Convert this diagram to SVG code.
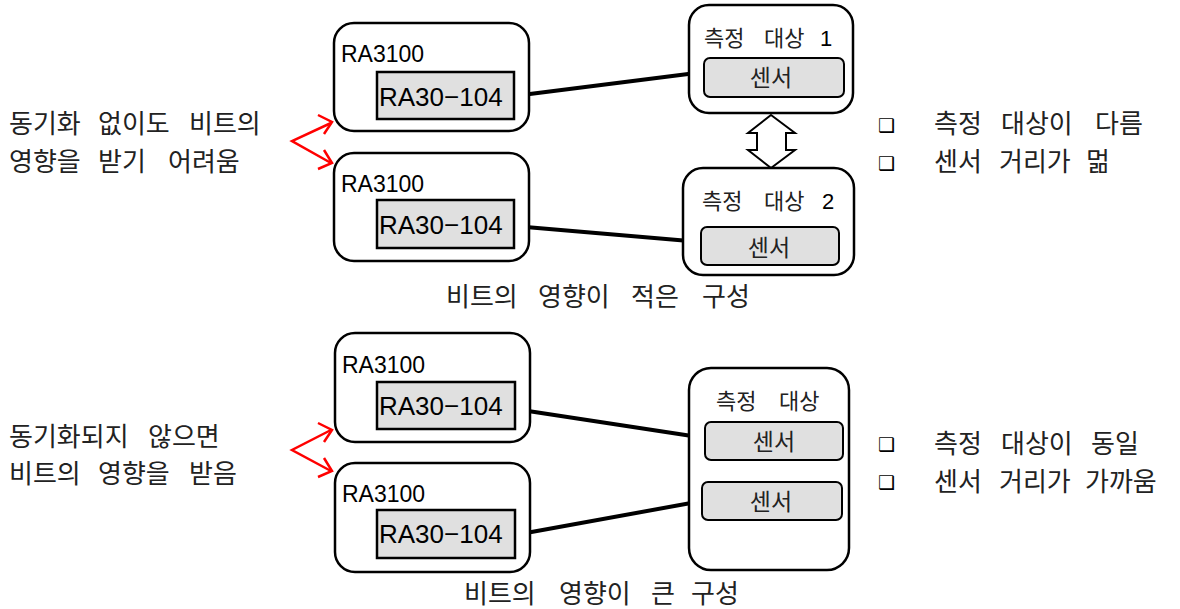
<svg xmlns="http://www.w3.org/2000/svg" width="1180" height="609" viewBox="0 0 1180 609">
<style>
.box{fill:#fff;stroke:#000;stroke-width:2.5}
.inner{fill:#e0e0e0;stroke:#000;stroke-width:2.5}
.sensor{fill:#e0e0e0;stroke:#000;stroke-width:2}
.en{font-family:"Liberation Sans",Arial,sans-serif;fill:#000}
.ra{font-size:23px}
.ra2{font-size:26px}
.ko{font-family:"Noto Sans CJK KR","Noto Sans",sans-serif;fill:#222;font-size:26px}
.kos{font-size:22px}
.sen{font-size:23px}
.bul{font-family:"DejaVu Sans",sans-serif;font-size:19px;fill:#000}
.link{stroke:#000;stroke-width:4;fill:none}
.red{stroke:#f00;stroke-width:2.5;fill:none}
</style>
<rect width="1180" height="609" fill="#fff"/>

<g id="connectors">
<line class="link" x1="514" y1="96" x2="704" y2="72"/>
<line class="link" x1="514" y1="226" x2="701" y2="242"/>
<line class="link" x1="515" y1="409" x2="705" y2="438"/>
<line class="link" x1="515" y1="535" x2="702" y2="501"/>
<path class="red" d="M331,123 L292,141 L331,163"/>
<path class="red" d="M318,115 L332,122 L324,134"/>
<path class="red" d="M324,150 L332,163 L318,169"/>
<path class="red" d="M331,430 L292,450 L331,471"/>
<path class="red" d="M318,423 L332,430 L324,442"/>
<path class="red" d="M324,458 L332,471 L318,477"/>
<path d="M771,115 L795,133 L786,133 L786,150 L795,150 L771,168 L748,150 L757,150 L757,133 L748,133 Z" fill="#fff" stroke="#000" stroke-width="2"/>
</g>

<g id="ra1">
<rect class="box" x="334" y="23" width="195" height="108" rx="20"/>
<text class="en ra" x="341" y="62">RA3100</text>
<rect class="inner" x="377" y="72" width="137" height="47"/>
<text class="en ra2" x="379" y="106">RA30−104</text>
</g>
<g id="ra2">
<rect class="box" x="334" y="153" width="195" height="108" rx="20"/>
<text class="en ra" x="341" y="192">RA3100</text>
<rect class="inner" x="377" y="200" width="137" height="48"/>
<text class="en ra2" x="379" y="234">RA30−104</text>
</g>
<g id="target1">
<rect class="box" x="689" y="5" width="164" height="108" rx="20"/>
<text class="ko kos" y="46"><tspan x="704">측정</tspan><tspan x="764">대상</tspan></text>
<text class="en" x="820" y="46" font-size="22">1</text>
<rect class="sensor" x="704" y="58" width="140" height="39" rx="6"/>
<text class="ko sen" x="771" y="86" text-anchor="middle">센서</text>
</g>
<g id="target2">
<rect class="box" x="683" y="168" width="171" height="107" rx="20"/>
<text class="ko kos" y="209"><tspan x="702">측정</tspan><tspan x="764">대상</tspan></text>
<text class="en" x="822" y="209" font-size="22">2</text>
<rect class="sensor" x="701" y="227" width="138" height="38" rx="6"/>
<text class="ko sen" x="769" y="256" text-anchor="middle">센서</text>
</g>
<g id="note1">
<text class="ko" y="133"><tspan x="9">동기화</tspan><tspan x="98">없이도</tspan><tspan x="189">비트의</tspan></text>
<text class="ko" y="171"><tspan x="9">영향을</tspan><tspan x="98">받기</tspan><tspan x="168">어려움</tspan></text>
</g>
<g id="bullets1">
<text class="bul" x="878" y="132">❑</text>
<text class="ko" y="133"><tspan x="934">측정</tspan><tspan x="1001">대상이</tspan><tspan x="1095">다름</tspan></text>
<text class="bul" x="878" y="170">❑</text>
<text class="ko" y="171"><tspan x="934">센서</tspan><tspan x="999">거리가</tspan><tspan x="1086">멂</tspan></text>
</g>
<text class="ko" y="306"><tspan x="446">비트의</tspan><tspan x="538">영향이</tspan><tspan x="631">적은</tspan><tspan x="702">구성</tspan></text>

<g id="ra3">
<rect class="box" x="335" y="333" width="195" height="109" rx="20"/>
<text class="en ra" x="342" y="373">RA3100</text>
<rect class="inner" x="377" y="382" width="138" height="47"/>
<text class="en ra2" x="379" y="415">RA30−104</text>
</g>
<g id="ra4">
<rect class="box" x="335" y="463" width="195" height="109" rx="20"/>
<text class="en ra" x="342" y="502">RA3100</text>
<rect class="inner" x="377" y="510" width="138" height="48"/>
<text class="en ra2" x="379" y="543">RA30−104</text>
</g>
<g id="target3">
<rect class="box" x="689" y="368" width="160" height="202" rx="22"/>
<text class="ko kos" y="409"><tspan x="716">측정</tspan><tspan x="779">대상</tspan></text>
<rect class="sensor" x="705" y="422" width="138" height="38" rx="6"/>
<text class="ko sen" x="774" y="450" text-anchor="middle">센서</text>
<rect class="sensor" x="702" y="482" width="140" height="38" rx="6"/>
<text class="ko sen" x="771" y="510" text-anchor="middle">센서</text>
</g>
<g id="note2">
<text class="ko" y="446"><tspan x="9">동기화되지</tspan><tspan x="148">않으면</tspan></text>
<text class="ko" y="483"><tspan x="9">비트의</tspan><tspan x="98">영향을</tspan><tspan x="189">받음</tspan></text>
</g>
<g id="bullets2">
<text class="bul" x="878" y="451">❑</text>
<text class="ko" y="453"><tspan x="934">측정</tspan><tspan x="1001">대상이</tspan><tspan x="1091">동일</tspan></text>
<text class="bul" x="878" y="489">❑</text>
<text class="ko" y="491"><tspan x="934">센서</tspan><tspan x="999">거리가</tspan><tspan x="1085">가까움</tspan></text>
</g>
<text class="ko" y="603"><tspan x="464">비트의</tspan><tspan x="559">영향이</tspan><tspan x="651">큰</tspan><tspan x="691">구성</tspan></text>
</svg>
